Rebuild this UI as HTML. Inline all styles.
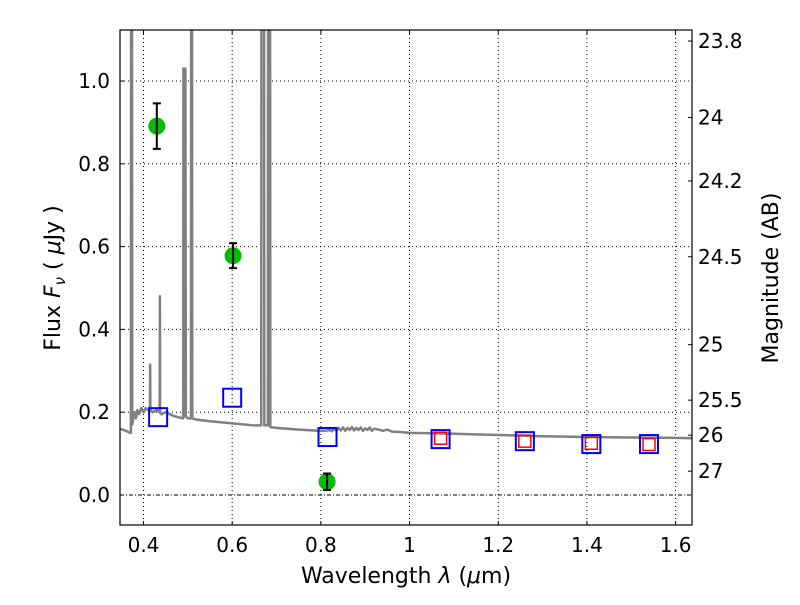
<!DOCTYPE html>
<html><head><meta charset="utf-8"><style>
body{margin:0;background:#fff}
svg text{font-family:"DejaVu Sans","Liberation Sans",sans-serif;fill:#000}
</style></head><body>
<svg id="chart" width="800" height="600" xmlns="http://www.w3.org/2000/svg">
<rect width="800" height="600" fill="#fff"/>
<g id="grid"></g><g id="spec"></g><g id="marks"></g><g id="axes"></g>
</svg>
<script>
const xTicks=[0.4,0.6,0.8,1.0,1.2,1.4,1.6];
const xTickLabels=["0.4","0.6","0.8","1","1.2","1.4","1.6"];
const yTicks=[0,0.2,0.4,0.6,0.8,1.0];
const yTickLabels=["0.0","0.2","0.4","0.6","0.8","1.0"];
const magTicks=[23.8,24,24.2,24.5,25,25.5,26,27];
const specWave=[0.347,0.36,0.37,0.3715,0.372,0.374,0.3745,0.378,0.38,0.383,0.386,0.39,0.395,0.4,0.405,0.41,0.4145,0.415,0.4155,0.42,0.43,0.4365,0.437,0.4375,0.44,0.45,0.47,0.4895,0.49,0.4915,0.4925,0.493,0.4945,0.4955,0.5,0.507,0.5075,0.5095,0.51,0.52,0.55,0.6,0.65,0.6655,0.666,0.672,0.6725,0.673,0.6805,0.681,0.6855,0.686,0.7,0.75,0.8,0.81,0.82,0.825,0.83,0.835,0.84,0.845,0.85,0.855,0.86,0.865,0.87,0.875,0.88,0.885,0.89,0.895,0.9,0.905,0.91,0.915,0.92,0.93,0.94,0.95,0.96,0.98,1.0,1.1,1.2,1.3,1.4,1.5,1.6,1.637];
const specFlux=[0.16,0.155,0.15,0.15,1.2,1.2,0.17,0.19,0.2,0.185,0.205,0.195,0.21,0.2,0.21,0.205,0.205,0.315,0.205,0.2,0.205,0.2,0.48,0.2,0.195,0.2,0.19,0.185,1.03,1.03,0.19,0.2,1.03,0.19,0.185,0.185,1.2,1.2,0.185,0.182,0.178,0.173,0.168,0.168,1.2,1.2,0.168,0.168,0.168,1.2,1.2,0.164,0.162,0.158,0.155,0.155,0.157,0.154,0.16,0.155,0.162,0.156,0.163,0.155,0.162,0.157,0.164,0.156,0.162,0.157,0.163,0.155,0.161,0.157,0.163,0.155,0.16,0.158,0.155,0.158,0.153,0.152,0.15,0.148,0.145,0.142,0.14,0.139,0.138,0.137];
const photWave=[0.43,0.602,0.814];
const photFlux=[0.891,0.578,0.032];
const photErr=[0.055,0.03,0.02];
const modelWave=[0.433,0.6,0.815,1.07,1.26,1.41,1.54];
const modelFlux=[0.188,0.235,0.14,0.135,0.13,0.123,0.123];
const fitWave=[1.07,1.26,1.41,1.54];
const fitFlux=[0.137,0.13,0.125,0.122];

const L=120,R=692,T=30,B=525,xmin=0.347,xmax=1.637,ymin=-0.0725,ymax=1.1232;
const X=v=>L+(v-xmin)/(xmax-xmin)*(R-L);
const Y=v=>B-(v-ymin)/(ymax-ymin)*(B-T);
const NS="http://www.w3.org/2000/svg";
function mk(tag,attrs,parent){const e=document.createElementNS(NS,tag);for(const k in attrs)e.setAttribute(k,attrs[k]);parent.appendChild(e);return e;}
const grid=document.getElementById('grid'),spec=document.getElementById('spec'),marks=document.getElementById('marks'),axes=document.getElementById('axes');
xTicks.forEach((t,i)=>{
 const g=mk('line',{x1:X(t),x2:X(t),y1:T,y2:B,stroke:'#000','stroke-width':1,'stroke-dasharray':'1,3'},grid);
 
 
 mk('line',{x1:X(t),x2:X(t),y1:B,y2:B-4,stroke:'#000'},axes);
 mk('line',{x1:X(t),x2:X(t),y1:T,y2:T+4,stroke:'#000'},axes);
 const tx=mk('text',{x:X(t),y:B+27,'text-anchor':'middle','font-size':20},axes);tx.textContent=xTickLabels[i];
 
 
});
yTicks.forEach((t,i)=>{
 const g=mk('line',{x1:L,x2:R,y1:Y(t),y2:Y(t),stroke:'#000','stroke-width':1,'stroke-dasharray':t===0?'4,2,1,2':'1,3'},grid);
 
 
 mk('line',{x1:L,x2:L+4,y1:Y(t),y2:Y(t),stroke:'#000'},axes);
 const tx=mk('text',{x:L-10,y:Y(t)+7,'text-anchor':'end','font-size':20},axes);tx.textContent=yTickLabels[i];
 
 
});
magTicks.forEach(m=>{
 const f=Math.pow(10,(23.9-m)/2.5),y=Y(f);
 mk('line',{x1:R-4,x2:R,y1:y,y2:y,stroke:'#000'},axes);
 const tx=mk('text',{x:R+6,y:y+7,'font-size':20},axes);tx.textContent=String(m);
 
 
});
mk('clipPath',{id:'clip'},spec);
mk('rect',{x:L,y:T,width:R-L,height:B-T},document.getElementById('clip'));
const sp=mk('polyline',{points:specWave.map((w,i)=>X(w)+','+Y(specFlux[i])).join(' '),fill:'none',stroke:'#808080','stroke-width':2.5,'stroke-linejoin':'round','clip-path':'url(#clip)'},spec);


modelWave.forEach((w,i)=>{
 const r=mk('rect',{x:X(w)-9,y:Y(modelFlux[i])-9,width:18,height:18,fill:'none',stroke:'#0000ff','stroke-width':2},marks);
 
 
});
fitWave.forEach((w,i)=>{
 const r=mk('rect',{x:X(w)-6,y:Y(fitFlux[i])-6,width:12,height:12,fill:'none',stroke:'#ff0000','stroke-width':1.5},marks);
 
 
});
photWave.forEach((w,i)=>{
 const x=X(w),y=Y(photFlux[i]);
 const c=mk('circle',{cx:x,cy:y,r:8.5,fill:'#00bb00'},marks);
 
 
 const y1=Y(photFlux[i]+photErr[i]),y2=Y(photFlux[i]-photErr[i]);
 const e=mk('path',{d:`M${x},${y1}V${y2}M${x-4},${y1}H${x+4}M${x-4},${y2}H${x+4}`,stroke:'#000','stroke-width':2,fill:'none'},marks);
 
 
});
const fr=mk('rect',{x:L,y:T,width:R-L,height:B-T,fill:'none',stroke:'#000','stroke-width':1.2},axes);


const xl=mk('text',{x:406,y:583,'text-anchor':'middle','font-size':22},axes);
xl.innerHTML='Wavelength  <tspan font-style="italic">λ</tspan> (<tspan font-style="italic">μ</tspan>m)';


const yl=mk('text',{x:60,y:278,'text-anchor':'middle','font-size':22,transform:'rotate(-90 60 278)'},axes);
yl.innerHTML='Flux  <tspan font-style="italic">F</tspan><tspan font-style="italic" font-size="15" dy="5">ν</tspan><tspan dy="-5">  ( </tspan><tspan font-style="italic">μ</tspan>Jy )';


const ml=mk('text',{x:778,y:278,'text-anchor':'middle','font-size':22,transform:'rotate(-90 778 278)'},axes);
ml.textContent='Magnitude (AB)';


</script>
</body></html>
